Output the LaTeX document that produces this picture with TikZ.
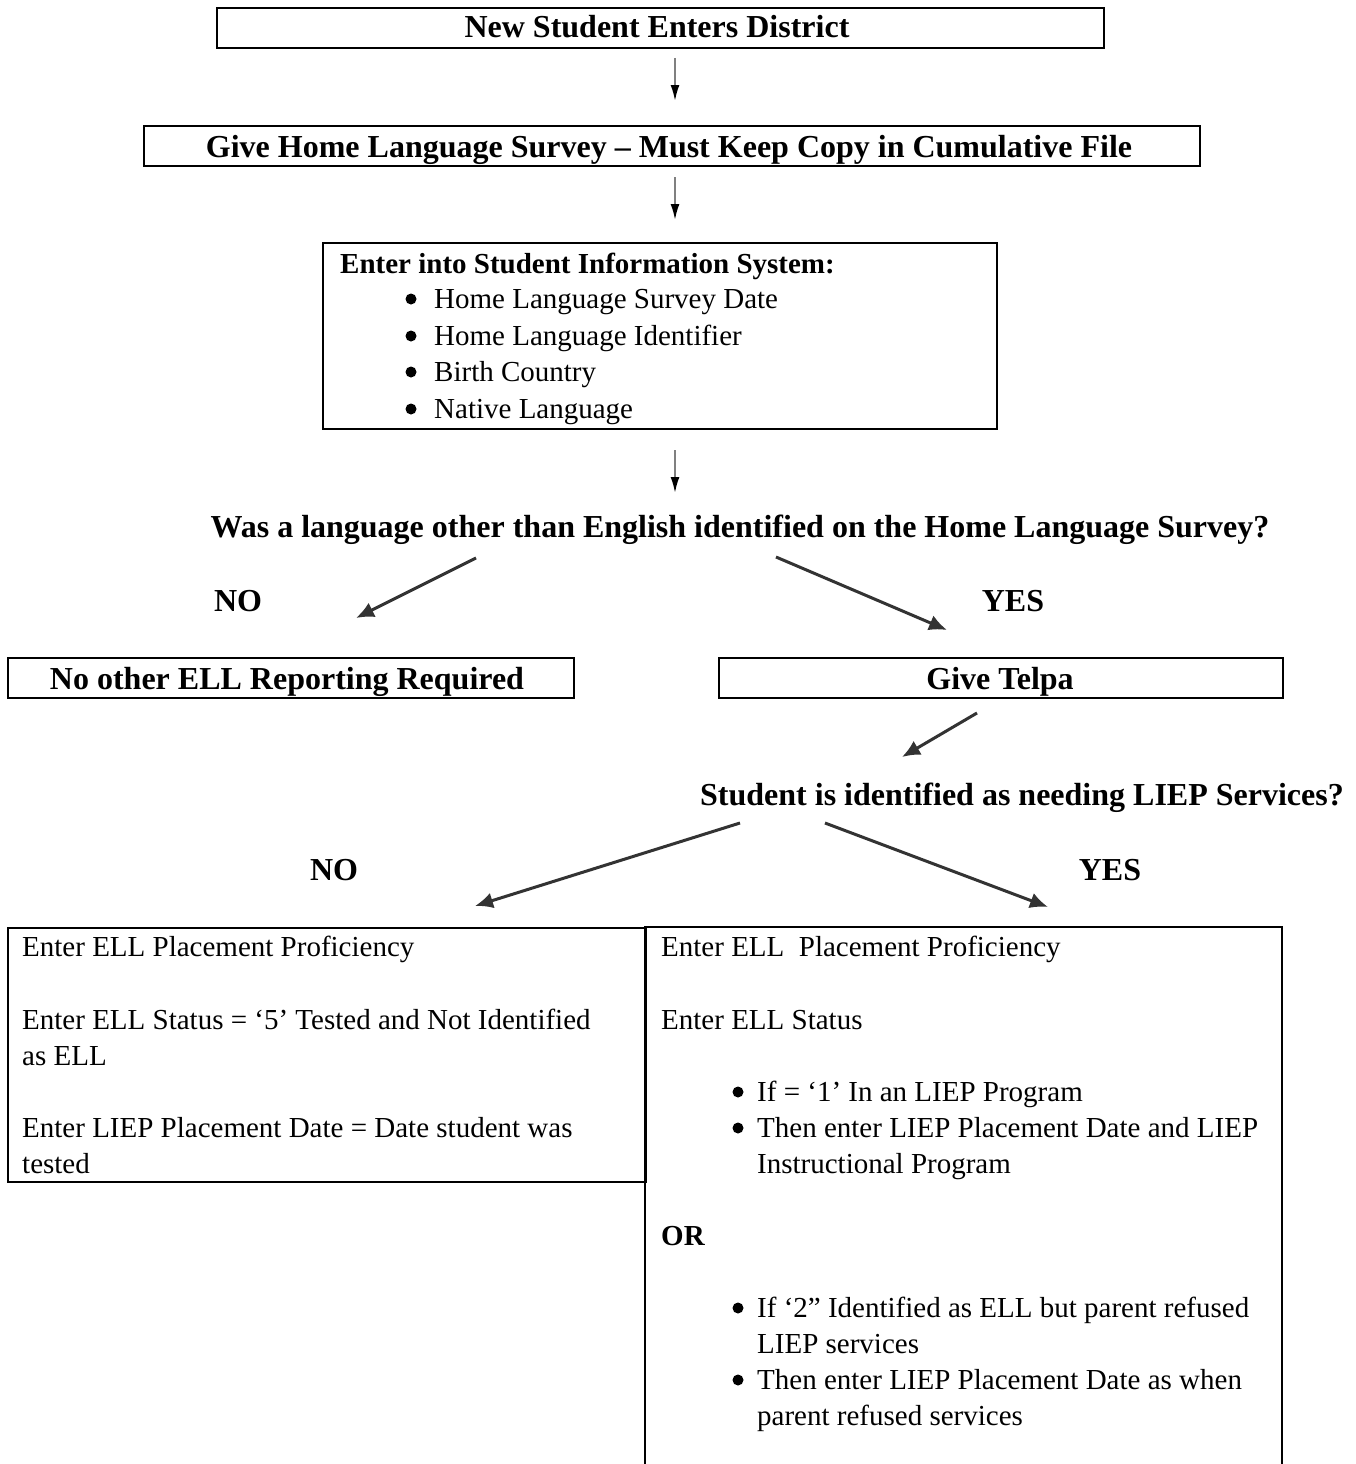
\documentclass[tikz,border=0pt]{standalone}
\usepackage{fontspec}
\setmainfont{Liberation Serif}
\usetikzlibrary{arrows.meta}
\begin{document}
\begin{tikzpicture}[x=1pt,y=-1pt,
  box/.style={draw=black,line width=2.2pt,inner sep=0pt,anchor=north west},
  head/.style={font=\fontsize{32}{38}\selectfont\bfseries,inner sep=0pt},
  txt/.style={font=\fontsize{29}{36}\selectfont,inner sep=0pt,anchor=base west},
  btxt/.style={font=\fontsize{29}{36}\selectfont\bfseries,inner sep=0pt,anchor=base west},
  varrow/.style={draw=black!50,line width=2pt,-{Latex[length=16pt,width=9pt,black]}},
  darrow/.style={draw=black!80,line width=3pt,-{Latex[length=18pt,width=16pt]}},
  bul/.style={fill=black}]
\useasboundingbox (0,0) rectangle (1355,1464);
% top boxes
\node[box,minimum width=887pt,minimum height=40pt] (b1) at (216,7) {};
\node[head,anchor=base] (t1) at (657,38) {New Student Enters District};
\node[box,minimum width=1056pt,minimum height=40pt] (b2) at (143,125) {};
\node[head,anchor=base] (t2) at (669,157) {Give Home Language Survey – Must Keep Copy in Cumulative File};
\node[box,minimum width=674pt,minimum height=186pt] (b3) at (322,242) {};
\node[btxt] (t3) at (340,273) {Enter into Student Information System:};
\foreach \yy/\tt [count=\i] in {308/Home Language Survey Date,345/Home Language Identifier,381/Birth Country,418/Native Language}{
  \fill[bul] (411,\yy-9) circle (5.5pt);
  \node[txt] (s\i) at (434,\yy) {\tt};
}
% vertical arrows
\coordinate (a1s) at (675,58); \coordinate (a1e) at (675,101);
\coordinate (a2s) at (675,177); \coordinate (a2e) at (675,220);
\coordinate (a3s) at (675,450); \coordinate (a3e) at (675,493);
\draw[varrow] (a1s) -- (a1e);
\draw[varrow] (a2s) -- (a2e);
\draw[varrow] (a3s) -- (a3e);
% question 1
\node[head,anchor=base] (q1) at (740,537) {Was a language other than English identified on the Home Language Survey?};
\coordinate (n1s) at (476,558); \coordinate (n1e) at (356,618);
\coordinate (y1s) at (776,557); \coordinate (y1e) at (947,630);
\draw[darrow] (n1s) -- (n1e);
\draw[darrow] (y1s) -- (y1e);
\node[head,anchor=base] (no1) at (238,611) {NO};
\node[head,anchor=base] (yes1) at (1013,611) {YES};
\node[box,minimum width=566pt,minimum height=40pt] (bno) at (7,657) {};
\node[head,anchor=base] (tno) at (287,689) {No other ELL Reporting Required};
\node[box,minimum width=564pt,minimum height=40pt] (byes) at (718,657) {};
\node[head,anchor=base] (tyes) at (1000,689) {Give Telpa};
\coordinate (g1s) at (977,713); \coordinate (g1e) at (902,757);
\draw[darrow] (g1s) -- (g1e);
% question 2
\node[head,anchor=base] (q2) at (1022,805) {Student is identified as needing LIEP Services?};
\coordinate (n2s) at (740,823); \coordinate (n2e) at (475,906);
\coordinate (y2s) at (825,823); \coordinate (y2e) at (1048,907);
\draw[darrow] (n2s) -- (n2e);
\draw[darrow] (y2s) -- (y2e);
\node[head,anchor=base] (no2) at (334,880) {NO};
\node[head,anchor=base] (yes2) at (1110,880) {YES};
% bottom boxes
\node[box,minimum width=638pt,minimum height=254pt] (bl) at (7,927) {};
\draw[line width=2.2pt] (645,1470) -- (645,927) -- (1282,927) -- (1282,1470);
\coordinate (br) at (645,927);
\node[txt] (l1) at (22,956) {Enter ELL Placement Proficiency};
\node[txt] (l2) at (22,1029) {Enter ELL Status = ‘5’ Tested and Not Identified};
\node[txt] (l3) at (22,1065) {as ELL};
\node[txt] (l4) at (22,1137) {Enter LIEP Placement Date = Date student was};
\node[txt] (l5) at (22,1173) {tested};
\node[txt] (r1) at (661,956) {Enter ELL\ \ Placement Proficiency};
\node[txt] (r2) at (661,1029) {Enter ELL Status};
\fill[bul] (738,1092) circle (5.5pt);
\node[txt] (r3) at (757,1101) {If = ‘1’ In an LIEP Program};
\fill[bul] (738,1128) circle (5.5pt);
\node[txt] (r4) at (757,1137) {Then enter LIEP Placement Date and LIEP};
\node[txt] (r5) at (757,1173) {Instructional Program};
\node[btxt] (r6) at (661,1245) {OR};
\fill[bul] (738,1308) circle (5.5pt);
\node[txt] (r7) at (757,1317) {If ‘2” Identified as ELL but parent refused};
\node[txt] (r8) at (757,1353) {LIEP services};
\fill[bul] (738,1380) circle (5.5pt);
\node[txt] (r9) at (757,1389) {Then enter LIEP Placement Date as when};
\node[txt] (r10) at (757,1425) {parent refused services};
\end{tikzpicture}
\end{document}
